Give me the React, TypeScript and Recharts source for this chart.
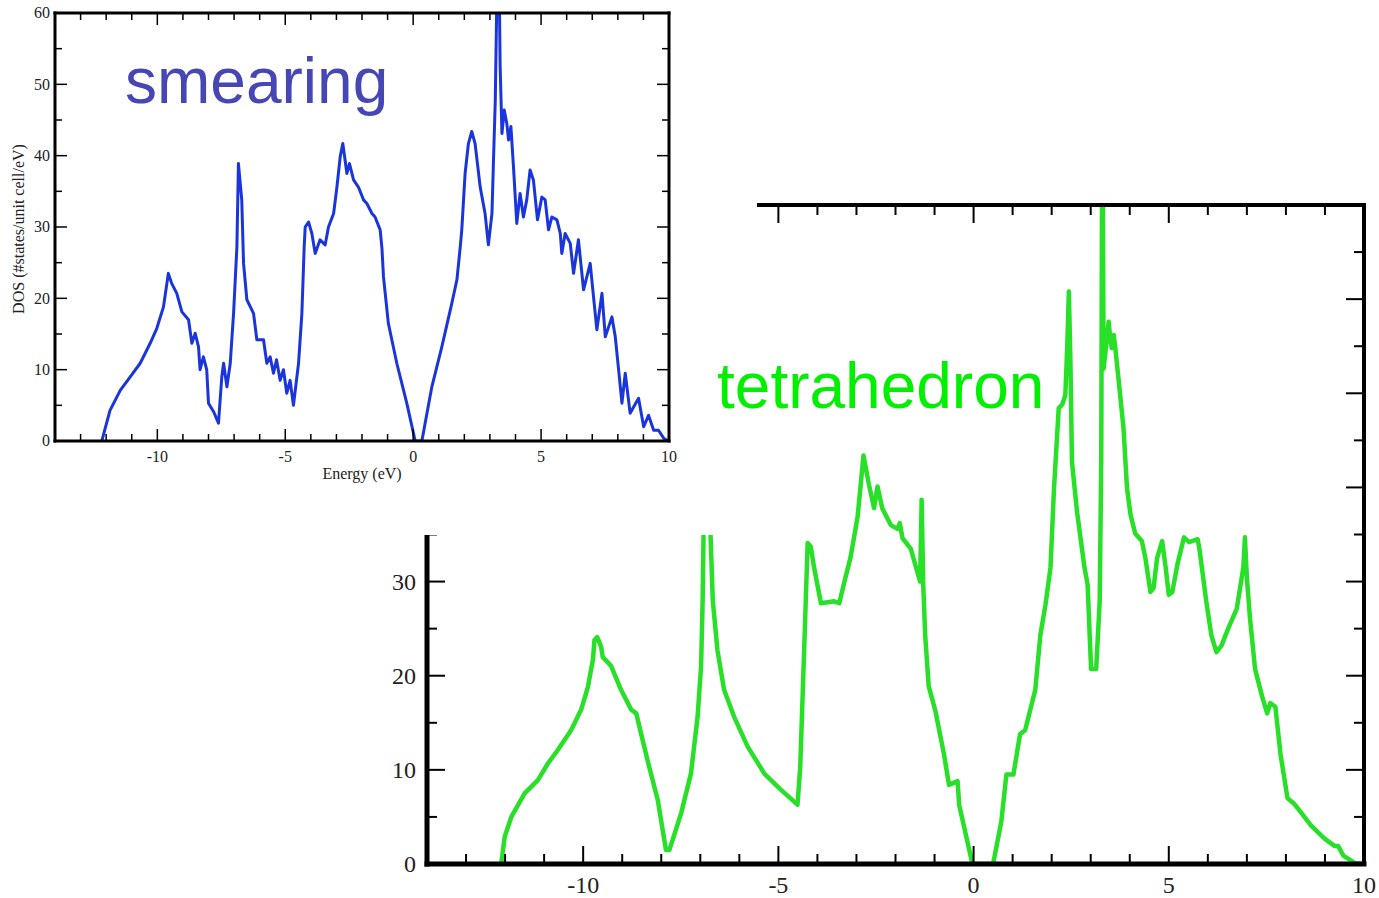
import { LineChart, Line, XAxis, YAxis } from 'recharts';

// smearing DOS (blue, top-left panel)
const smearEnergy = [
  -12.17, -11.85, -11.45, -11.06, -10.67, -10.28, -10.02, -9.76, -9.57, -9.44,
  -9.24, -9.04, -8.78, -8.65, -8.52, -8.39, -8.33, -8.2, -8.07, -8.0,
  -7.8, -7.61, -7.48, -7.41, -7.28, -7.15, -7.02, -6.89, -6.83, -6.7,
  -6.63, -6.5, -6.24, -6.11, -5.85, -5.72, -5.59, -5.46, -5.34, -5.2,
  -5.07, -4.94, -4.81, -4.68, -4.48, -4.35, -4.26, -4.22, -4.09, -3.96,
  -3.83, -3.64, -3.44, -3.31, -3.11, -2.98, -2.85, -2.75, -2.59, -2.49,
  -2.33, -2.14, -1.94, -1.81, -1.61, -1.49, -1.29, -1.22, -1.16, -0.97,
  -0.64, -0.25, 0.08, 0.34, 0.73, 1.12, 1.51, 1.71, 1.84, 1.9,
  2.03, 2.16, 2.29, 2.42, 2.62, 2.81, 2.94, 3.08, 3.14, 3.21,
  3.27, 3.37, 3.4, 3.47, 3.56, 3.66, 3.73, 3.82, 3.92, 4.05,
  4.18, 4.31, 4.44, 4.57, 4.7, 4.86, 5.03, 5.16, 5.29, 5.42,
  5.62, 5.75, 5.81, 5.94, 6.14, 6.27, 6.46, 6.66, 6.92, 7.05,
  7.18, 7.38, 7.51, 7.77, 7.9, 8.03, 8.16, 8.29, 8.48, 8.81,
  9.01, 9.2, 9.4, 9.59, 9.79, 9.92, 10.0,
];
const smearDos = [
  0, 4.3, 7.1, 9.0, 10.9, 13.7, 15.8, 18.8, 23.5, 22.1,
  20.7, 18.1, 17.0, 13.7, 15.1, 13.2, 10.0, 11.8, 10.0, 5.3,
  4.1, 2.5, 9.0, 10.9, 7.6, 10.9, 17.9, 27.2, 38.9, 33.8,
  24.9, 19.8, 17.9, 14.2, 14.2, 10.9, 11.8, 9.5, 11.4, 8.5,
  10.0, 6.7, 8.5, 5.0, 10.9, 17.9, 27.2, 30.0, 30.7, 29.1,
  26.3, 28.2, 27.5, 30.0, 31.9, 35.6, 39.9, 41.7, 37.5, 38.9,
  36.6, 35.6, 33.8, 33.3, 31.9, 31.4, 29.6, 27.0, 23.0, 16.5,
  10.9, 5.3, 0, 0, 7.6, 13.2, 19.3, 22.6, 27.2, 29.6,
  37.5, 41.7, 43.4, 41.7, 35.6, 31.9, 27.5, 31.9, 39.4, 47.8,
  62, 62, 52.5, 43.1, 46.4, 44.5, 42.2, 44.1, 38.5, 30.5,
  34.7, 31.4, 33.8, 38.0, 36.6, 31.0, 34.2, 33.8, 29.6, 31.4,
  31.0, 29.1, 26.3, 29.1, 27.7, 23.5, 28.2, 21.2, 24.9, 20.2,
  15.6, 20.7, 14.6, 17.4, 14.6, 10.0, 5.3, 9.5, 3.9, 6.0,
  2.0, 3.6, 1.5, 1.5, 0.4, 0.1, 0,
];

// tetrahedron DOS (green, bottom-right panel)
const tetraEnergy = [
  -12.1, -12.01, -11.84, -11.5, -11.16, -10.9, -10.65, -10.31, -10.05, -9.88,
  -9.75, -9.71, -9.64, -9.54, -9.5, -9.28, -9.03, -8.77, -8.64, -8.52,
  -8.35, -8.09, -7.88, -7.79, -7.49, -7.24, -7.07, -6.98, -6.94, -6.9,
  -6.85, -6.78, -6.68, -6.56, -6.39, -6.13, -5.79, -5.36, -4.94, -4.51,
  -4.44, -4.34, -4.25, -4.17, -4.09, -3.91, -3.57, -3.44, -3.32, -3.15,
  -2.97, -2.82, -2.68, -2.55, -2.46, -2.34, -2.12, -1.95, -1.89, -1.82,
  -1.61, -1.37, -1.33, -1.29, -1.24, -1.15, -0.98, -0.76, -0.63, -0.41,
  -0.37, -0.03, 0.5, 0.71, 0.84, 1.02, 1.19, 1.32, 1.58, 1.71,
  1.84, 1.97, 2.06, 2.18, 2.27, 2.35, 2.4, 2.44, 2.48, 2.52,
  2.65, 2.84, 2.92, 3.01, 3.14, 3.23, 3.27, 3.29, 3.31, 3.33,
  3.46, 3.5, 3.54, 3.59, 3.63, 3.72, 3.84, 3.93, 4.02, 4.14,
  4.31, 4.4, 4.53, 4.61, 4.7, 4.83, 4.92, 5.0, 5.09, 5.22,
  5.39, 5.52, 5.74, 5.79, 5.96, 6.09, 6.22, 6.35, 6.52, 6.74,
  6.91, 6.95, 7.0, 7.08, 7.21, 7.39, 7.52, 7.6, 7.73, 7.86,
  8.04, 8.21, 8.38, 8.64, 8.99, 9.25, 9.34, 9.47, 9.77, 10.0,
];
const tetraDos = [
  0, 2.9, 5.0, 7.5, 8.9, 10.7, 12.1, 14.2, 16.4, 18.8,
  21.7, 23.8, 24.1, 23.1, 22.0, 21.0, 18.5, 16.4, 16.0, 13.9,
  11.0, 6.8, 1.5, 1.5, 5.4, 9.6, 15.6, 21.0, 28.0, 40.0,
  47.0, 40.0, 28.0, 22.7, 18.5, 15.6, 12.5, 9.6, 7.9, 6.3,
  10.3, 22.7, 34.1, 33.7, 31.6, 27.7, 27.9, 27.7, 29.8, 32.6,
  36.9, 43.4, 40.3, 37.8, 40.1, 37.8, 36.0, 35.6, 36.2, 34.6,
  33.5, 30.0, 38.7, 29.7, 24.3, 18.9, 16.3, 11.7, 8.4, 8.8,
  6.3, 0, 0, 4.5, 9.5, 9.5, 13.8, 14.2, 18.5, 24.3,
  27.5, 31.5, 39.9, 48.4, 48.8, 49.8, 55.1, 60.8, 53.4, 42.7,
  37.4, 31.5, 29.7, 20.7, 20.7, 27.9, 43.1, 72, 72, 52.6,
  57.6, 55.8, 54.8, 56.2, 54.8, 51.2, 46.3, 39.9, 37.1, 35.1,
  34.3, 32.5, 28.9, 29.3, 32.5, 34.3, 31.5, 28.6, 28.9, 31.8,
  34.7, 34.2, 34.5, 33.3, 27.9, 24.3, 22.5, 23.2, 25.0, 27.1,
  31.5, 34.7, 30.4, 26.1, 20.7, 17.8, 16.0, 17.1, 16.7, 11.7,
  7.0, 6.4, 5.5, 4.1, 2.7, 1.9, 1.9, 0.9, 0.1, 0,
];

const energyTicks = [
  -14, -13, -12, -11, -10, -9, -8, -7, -6, -5, -4, -3, -2, -1,
  0, 1, 2, 3, 4, 5, 6, 7, 8, 9, 10,
];
const energyLabels = [-10, -5, 0, 5, 10];
const smearDosTicks = [0, 5, 10, 15, 20, 25, 30, 35, 40, 45, 50, 55, 60];
const smearDosLabels = [0, 10, 20, 30, 40, 50, 60];
const tetraDosTicks = [0, 5, 10, 15, 20, 25, 30, 35, 40, 45, 50, 55, 60, 65, 70];
// the upper labels of this panel sit under the smearing panel
const tetraDosLabels = [0, 10, 20, 30];

const smearData = smearEnergy.map((e, i) => ({ e, dos: smearDos[i] }));
const tetraData = tetraEnergy.map((e, i) => ({ e, dos: tetraDos[i] }));

type Side = 'bottom' | 'top' | 'left' | 'right';
interface TickStyle {
  every: number;
  major: number;
  minor: number;
  font: number;
  gap: number;
  width: number;
  labels: number[];
}

// draws inward tick marks (long on majors) and the listed labels
function axisTick(side: Side, s: TickStyle) {
  return (props: any) => {
    const { x, y, payload } = props;
    const v = payload.value;
    const isMajor = Math.abs(v % s.every) < 1e-9;
    const len = isMajor ? s.major : s.minor;
    const showLabel = s.labels.includes(v);
    let line;
    let label = null;
    const textProps = {
      fill: '#222',
      fontSize: s.font,
      fontFamily: '"Liberation Serif", "Times New Roman", serif',
    };
    if (side === 'bottom') {
      line = <line x1={x} x2={x} y1={y} y2={y - len} />;
      if (showLabel)
        label = (
          <text x={x} y={y + s.gap} textAnchor="middle" {...textProps}>
            {v}
          </text>
        );
    } else if (side === 'top') {
      line = <line x1={x} x2={x} y1={y} y2={y + len} />;
    } else if (side === 'left') {
      line = <line x1={x} x2={x + len} y1={y} y2={y} />;
      if (showLabel)
        label = (
          <text x={x - s.gap} y={y + s.font * 0.34} textAnchor="end" {...textProps}>
            {v}
          </text>
        );
    } else {
      line = <line x1={x} x2={x - len} y1={y} y2={y} />;
    }
    return (
      <g>
        <g stroke="#000" strokeWidth={s.width}>{line}</g>
        {label}
      </g>
    );
  };
}

const smearX: TickStyle = { every: 5, major: 12, minor: 7, font: 16, gap: 21, width: 1.5, labels: energyLabels };
const smearY: TickStyle = { every: 10, major: 12, minor: 7, font: 16, gap: 5, width: 1.5, labels: smearDosLabels };
const smearEdge: TickStyle = { ...smearY, labels: [] };
const smearTop: TickStyle = { ...smearX, labels: [] };
const tetraX: TickStyle = { every: 5, major: 18, minor: 10, font: 24, gap: 29, width: 2, labels: energyLabels };
const tetraY: TickStyle = { every: 10, major: 18, minor: 10, font: 24, gap: 11, width: 2, labels: tetraDosLabels };
const tetraEdge: TickStyle = { ...tetraY, labels: [] };
const tetraTop: TickStyle = { ...tetraX, labels: [] };

const frame = (w: number) => ({ stroke: '#000', strokeWidth: w, strokeLinecap: 'square' as const });

function TetraPanel() {
  return (
    <div style={{ position: 'absolute', left: 380, top: 190, width: 999, height: 708, background: '#fff' }}>
      <LineChart width={999} height={708} data={tetraData} margin={{ top: 14, right: 14, bottom: 0, left: 0 }}>
        <XAxis
          type="number"
          dataKey="e"
          domain={[-14, 10]}
          allowDataOverflow
          ticks={energyTicks}
          interval={0}
          height={34}
          tickSize={0}
          tickMargin={0}
          tickLine={false}
          axisLine={frame(5)}
          tick={axisTick('bottom', tetraX)}
        />
        <XAxis
          xAxisId="top"
          orientation="top"
          type="number"
          dataKey="e"
          domain={[-14, 10]}
          allowDataOverflow
          ticks={energyTicks}
          interval={0}
          height={1}
          tickSize={0}
          tickMargin={0}
          tickLine={false}
          axisLine={frame(4)}
          tick={axisTick('top', tetraTop)}
        />
        <YAxis
          type="number"
          domain={[0, 70]}
          allowDataOverflow
          ticks={tetraDosTicks}
          interval={0}
          width={47}
          tickSize={0}
          tickMargin={0}
          tickLine={false}
          axisLine={frame(5)}
          tick={axisTick('left', tetraY)}
        />
        <YAxis
          yAxisId="right"
          orientation="right"
          type="number"
          domain={[0, 70]}
          allowDataOverflow
          ticks={tetraDosTicks}
          interval={0}
          width={1}
          tickSize={0}
          tickMargin={0}
          tickLine={false}
          axisLine={frame(4)}
          tick={axisTick('right', tetraEdge)}
        />
        <Line
          type="linear"
          dataKey="dos"
          stroke="#28e028"
          strokeWidth={4.5}
          strokeLinejoin="round"
          dot={false}
          isAnimationActive={false}
        />
      </LineChart>
    </div>
  );
}

function SmearPanel() {
  return (
    <div style={{ position: 'absolute', left: 0, top: 0, width: 757, height: 535, background: '#fff' }}>
      <LineChart width={757} height={535} data={smearData} margin={{ top: 12, right: 87, bottom: 0, left: 0 }}>
        <XAxis
          type="number"
          dataKey="e"
          domain={[-14, 10]}
          allowDataOverflow
          ticks={energyTicks}
          interval={0}
          height={94}
          tickSize={0}
          tickMargin={0}
          tickLine={false}
          axisLine={frame(3)}
          tick={axisTick('bottom', smearX)}
        />
        <XAxis
          xAxisId="top"
          orientation="top"
          type="number"
          dataKey="e"
          domain={[-14, 10]}
          allowDataOverflow
          ticks={energyTicks}
          interval={0}
          height={1}
          tickSize={0}
          tickMargin={0}
          tickLine={false}
          axisLine={frame(3)}
          tick={axisTick('top', smearTop)}
        />
        <YAxis
          type="number"
          domain={[0, 60]}
          allowDataOverflow
          ticks={smearDosTicks}
          interval={0}
          width={55}
          tickSize={0}
          tickMargin={0}
          tickLine={false}
          axisLine={frame(3)}
          tick={axisTick('left', smearY)}
        />
        <YAxis
          yAxisId="right"
          orientation="right"
          type="number"
          domain={[0, 60]}
          allowDataOverflow
          ticks={smearDosTicks}
          interval={0}
          width={1}
          tickSize={0}
          tickMargin={0}
          tickLine={false}
          axisLine={frame(3)}
          tick={axisTick('right', smearEdge)}
        />
        <Line
          type="linear"
          dataKey="dos"
          stroke="#1a35d9"
          strokeWidth={3}
          strokeLinejoin="round"
          dot={false}
          isAnimationActive={false}
        />
      </LineChart>
      <div
        style={{
          position: 'absolute',
          left: 362,
          top: 466,
          transform: 'translateX(-50%)',
          whiteSpace: 'nowrap',
          font: '16px "Liberation Serif", serif',
          color: '#222',
          lineHeight: 1,
        }}
      >
        Energy (eV)
      </div>
      <div
        style={{
          position: 'absolute',
          left: 19,
          top: 229,
          transform: 'translate(-50%, -50%) rotate(-90deg)',
          whiteSpace: 'nowrap',
          font: '16px "Liberation Serif", serif',
          color: '#222',
          lineHeight: 1,
        }}
      >
        DOS (#states/unit cell/eV)
      </div>
    </div>
  );
}

export default function App() {
  const note = {
    position: 'absolute' as const,
    fontFamily: '"Liberation Sans", Arial, sans-serif',
    lineHeight: 1,
    whiteSpace: 'nowrap' as const,
  };
  return (
    <div>
      <TetraPanel />
      <SmearPanel />
      <div style={{ ...note, left: 125, top: 49, fontSize: 64, color: '#4646b4' }}>smearing</div>
      <div style={{ ...note, left: 717, top: 354, fontSize: 64, color: '#00f000' }}>tetrahedron</div>
    </div>
  );
}
